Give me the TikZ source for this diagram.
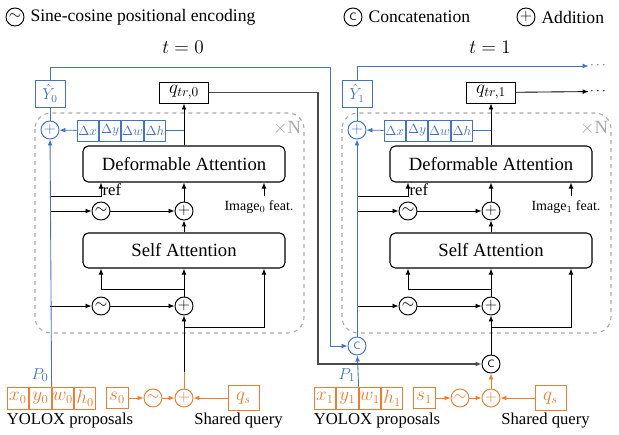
\documentclass[tikz,border=0pt]{standalone}
\usepackage{fontspec}
\setmainfont{Liberation Serif}
\usetikzlibrary{positioning,arrows.meta}

\definecolor{oblue}{RGB}{68,114,196}
\definecolor{oorange}{RGB}{237,125,49}
\definecolor{dgray}{RGB}{170,170,170}
\definecolor{kgray}{RGB}{75,75,75}

\tikzset{
  arr/.style={-{Latex[length=4.5pt,width=3.6pt]},line width=0.65pt},
  barr/.style={arr,oblue},
  oarr/.style={arr,oorange},
  garr/.style={arr,kgray,line width=1.2pt},
  bline/.style={line width=0.65pt,oblue},
  oline/.style={line width=0.65pt,oorange},
  op/.style={circle,draw,line width=0.7pt,inner sep=0pt,minimum size=13.5pt,font=\fontsize{12}{12}\selectfont},
  attn/.style={draw,rounded corners=4pt,line width=0.8pt,minimum width=151.5pt,font=\fontsize{14}{16}\selectfont},
  cell/.style={draw,line width=0.7pt,inner sep=0pt,minimum width=16.1pt,minimum height=15.75pt,font=\fontsize{13.5}{14}\selectfont},
  dcell/.style={cell,oblue,font=\fontsize{10}{12}\selectfont},
  lbl/.style={font=\fontsize{12.5}{14}\selectfont},
}

\begin{document}
\begin{tikzpicture}[x=0.75pt,y=-0.75pt]
\useasboundingbox (0,0) rectangle (619,435);

% legend
\node[op] (lsin) at (15,17) {$\sim$};
\node[font=\fontsize{13.2}{15}\selectfont,right=1pt of lsin] (lsint) {Sine-cosine positional encoding};
\node[op] (lcat) at (353,17) {\sffamily\footnotesize C};
\node[font=\fontsize{13.2}{15}\selectfont,right=1pt of lcat] (lcatt) {Concatenation};
\node[op] (ladd) at (526,17) {$+$};
\node[font=\fontsize{13.2}{15}\selectfont,right=1pt of ladd] (laddt) {Addition};

% one block per time step
\foreach \i/\sx in {0/0,1/307}{
\begin{scope}[shift={(\sx,0)}]
  \node[font=\fontsize{14}{16}\selectfont] (t\i) at (183,47) {$t=\i$};
  \draw[dgray,dashed,rounded corners=12pt,line width=0.8pt] (35,113) rectangle (304,333);
  \node[dgray,font=\fontsize{14}{16}\selectfont] (rep\i) at (287,128) {$\times$N};

  \node[attn,minimum height=27pt] (da\i) at (184,164) {Deformable Attention};
  \node[attn,minimum height=26.25pt] (sa\i) at (184,250.5) {Self Attention};
  \node[op] (sin1\i) at (101,211) {$\sim$};
  \node[op] (add1\i) at (184,211) {$+$};
  \node[op] (sin2\i) at (101,306) {$\sim$};
  \node[op] (add2\i) at (184,306) {$+$};
  \node[font=\fontsize{10.5}{12}\selectfont] (img\i) at (259,207) {Image$_\i$ feat.};
  \node[lbl,anchor=west,inner sep=1pt] (ref\i) at (101,190) {ref};

  \node[cell,minimum width=36.75pt,font=\fontsize{14.5}{15}\selectfont] (q\i) at (184,92.5) {$q_{tr,\i}$};
  \node[op,oblue] (addb\i) at (50,130) {$+$};
  \node[cell,oblue,minimum width=22.5pt,minimum height=20.25pt,font=\fontsize{11.5}{12}\selectfont] (yh\i) at (50,93.5) {$\hat{Y}_\i$};
  \node[dcell] (dx\i) at (87.75,130.5) {$\Delta x$};
  \node[dcell,right=0pt of dx\i] (dy\i) {$\Delta y$};
  \node[dcell,right=0pt of dy\i] (dw\i) {$\Delta w$};
  \node[dcell,right=0pt of dw\i] (dh\i) {$\Delta h$};

  % inputs
  \node[cell,oorange,minimum height=16.5pt] (bx\i) at (18,398) {$x_\i$};
  \node[cell,oorange,minimum height=16.5pt,right=0pt of bx\i] (by\i) {$y_\i$};
  \node[cell,oorange,minimum height=16.5pt,right=0pt of by\i] (bw\i) {$w_\i$};
  \node[cell,oorange,minimum height=16.5pt,right=0pt of bw\i] (bh\i) {$h_\i$};
  \node[oblue,font=\fontsize{13}{14}\selectfont] (p\i) at (40,375) {$P_\i$};
  \node[lbl] (yolo\i) at (70,420) {YOLOX proposals};
  \node[cell,oorange,minimum width=16.5pt] (s\i) at (117,398) {$s_\i$};
  \node[op,oorange] (sin3\i) at (153,398) {$\sim$};
  \node[op,oorange] (add3\i) at (184,398) {$+$};
  \node[cell,oorange,minimum width=23.25pt,minimum height=18.75pt] (qs\i) at (243.5,398) {$q_s$};
  \node[lbl] (shq\i) at (238.5,421) {Shared query};

  \coordinate (rf\i) at (101,196);
  \coordinate (kx\i) at (264,0);
  \coordinate (br\i) at (184,289);
  \coordinate (jq\i) at (184,327);

  % connections
  \draw[oarr] (s\i) -- (sin3\i);
  \draw[oarr] (sin3\i) -- (add3\i);
  \draw[oarr] (qs\i) -- (add3\i);
  \draw[arr] (addb\i |- sin2\i) -- (sin2\i);
  \draw[arr] (sin2\i) -- (add2\i);
  \draw[arr] (add2\i) -- (sa\i);
  \draw[arr] (br\i) -| (sin2\i |- sa\i.south);
  \draw[arr] (jq\i) -| (kx\i |- sa\i.south);
  \draw[arr] (sa\i) -- (add1\i);
  \draw[arr] (addb\i |- sin1\i) -- (sin1\i);
  \draw[arr] (sin1\i) -- (add1\i);
  \draw[arr] (add1\i) -- (da\i);
  \draw[arr] (addb\i |- rf\i) -| (sin1\i |- da\i.south);
  \draw[arr] (kx\i |- img\i.north) -- (kx\i |- da\i.south);
  \draw[arr] (da\i) -- (q\i);
  \draw[bline] (dh\i.east) -- (dh\i.east -| q\i);
  \draw[barr] (dx\i) -- (addb\i);
  \draw[bline] (addb\i) -- (yh\i);
\end{scope}
}

% t = 0
\coordinate (oq0) at (184,372);
\draw[oline] (add30) -- (oq0);
\draw[arr] (oq0) -- (add20);
\draw[barr] (by0.north east) -- (addb0);

% t = 1
\node[op,oblue] (cbl1) at (357,346) {\sffamily\footnotesize C};
\node[op] (cb1) at (491,364) {\sffamily\footnotesize C};
\draw[oarr] (add31) -- (cb1);
\draw[arr] (cb1) -- (add21);
\draw[barr] (by1.north east) -- (cbl1);
\draw[barr] (cbl1) -- (addb1);

% between steps
\coordinate (tb0) at (330,67);
\coordinate (tk0) at (318,200);
\draw[barr] (yh0) |- (tb0) |- (cbl1);
\draw[garr] (q0) -| (tk0) |- (cb1);
\node[oblue,inner sep=1pt] (mb) at (598,66) {$\cdots$};
\node[inner sep=1pt] (mk) at (598,91.5) {$\cdots$};
\draw[barr] (yh1) |- (mb);
\draw[arr] (q1) -- (mk);
\end{tikzpicture}
\end{document}
